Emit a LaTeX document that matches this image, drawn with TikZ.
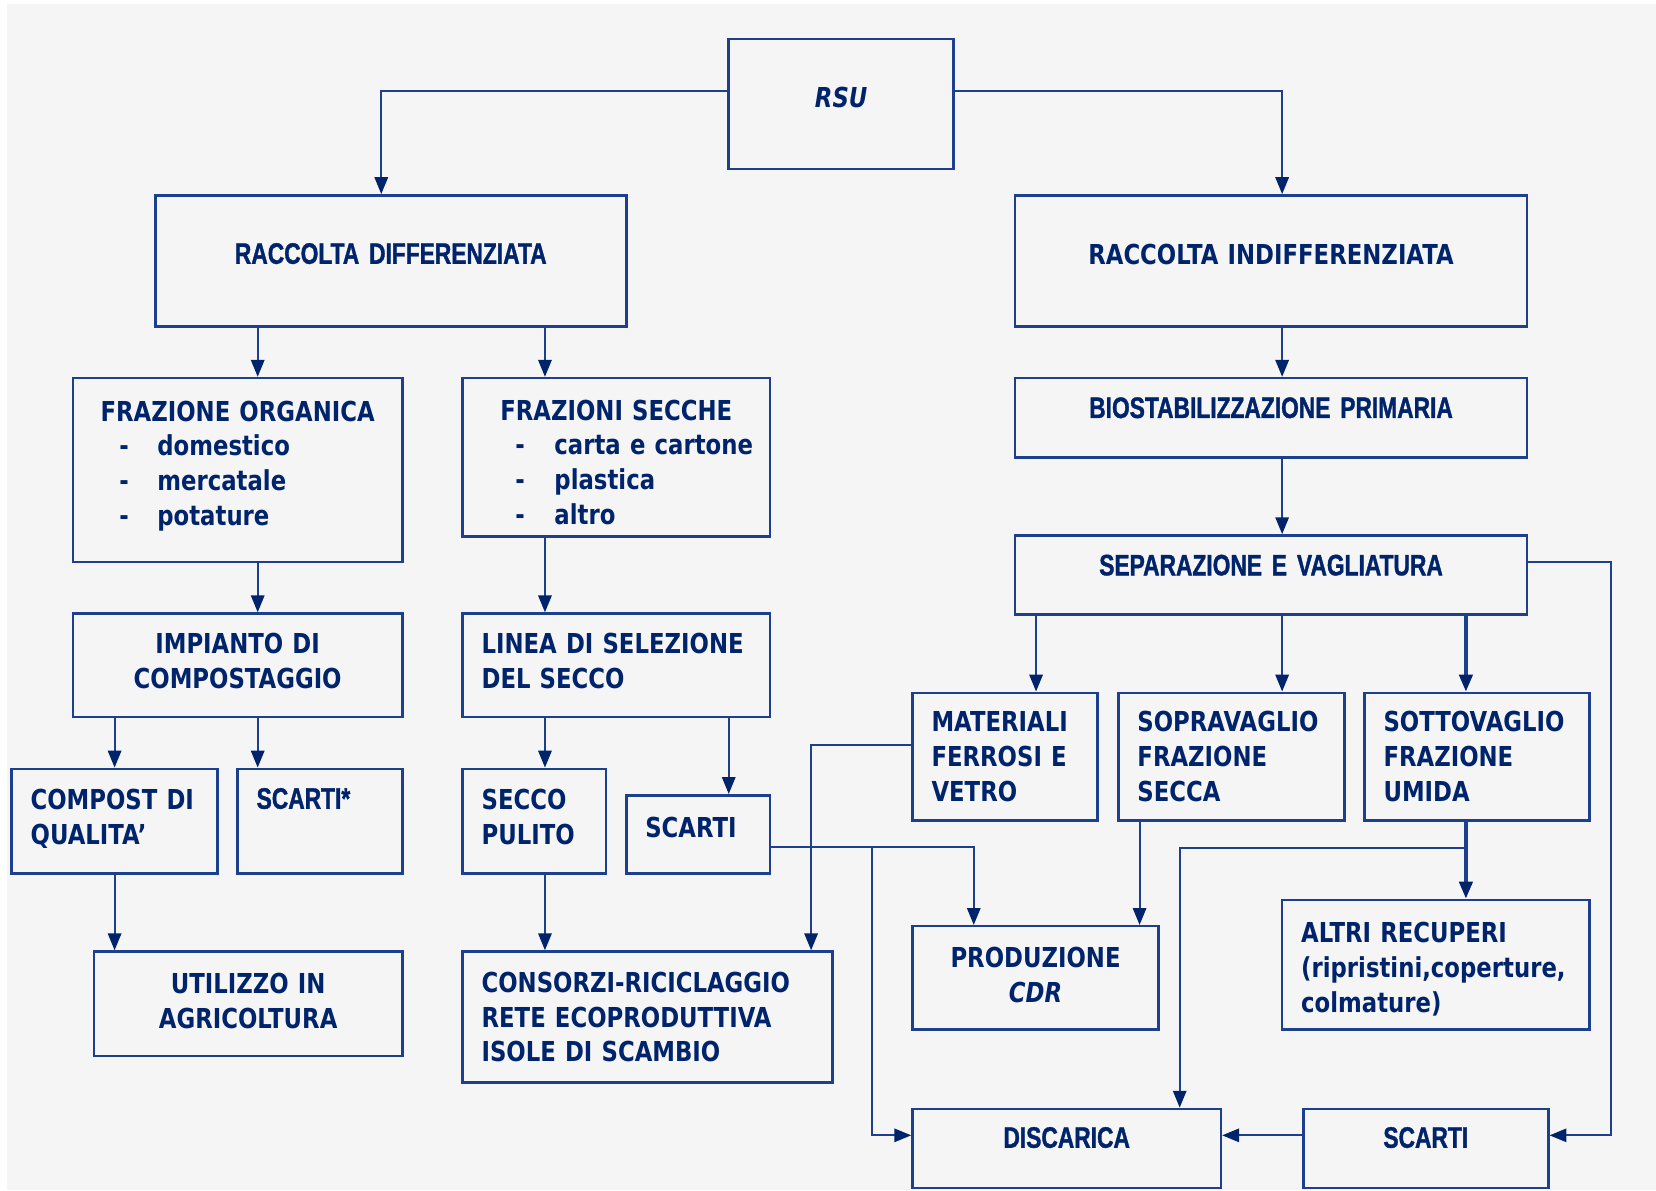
\documentclass[tikz,border=0pt]{standalone}
\usepackage{fontspec}
\usepackage{tikz}
\usetikzlibrary{shapes,arrows.meta,positioning,calc}
\newfontfamily\boxfont[FakeStretch=0.83]{DejaVu Sans}
\newfontfamily\arialfont[FakeStretch=0.77,BoldFeatures={FakeBold=1.2}]{Liberation Sans}
\definecolor{RsuNavy}{RGB}{0,36,107}
\definecolor{RsuLine}{RGB}{28,64,142}
\definecolor{RsuBack}{RGB}{245,245,245}
\newcommand{\padbelow}[1]{\rule[-#1]{0pt}{#1}}
\newcommand{\padabove}[1]{\rule{0pt}{#1}}
\newcommand{\dashitem}[3]{\hspace*{#1}\makebox[#2][l]{-}\mbox{#3}}
\tikzset{
  every node/.style={
    font=\boxfont\bfseries\fontsize{13}{16.5}\selectfont
  },
  box style/.style n args={2}{
    shape=rectangle,
    draw=RsuLine,
    line width=1.2pt,
    text=RsuNavy,
    minimum width=#1,
    minimum height=#2,
    text width=#1-18pt,
    inner xsep=9pt,
    inner ysep=0pt
  },
  centred text/.style={align=center},
  left text/.style={align=left},
  arial/.style={
    font=\arialfont\bfseries\fontsize{14}{17}\selectfont
  }
}

\begin{document}
\begin{tikzpicture}[x=0.5pt,y=-0.5pt,
    flow/.style={draw=RsuLine,line width=1pt,
      -{Triangle[length=8pt,width=6.3pt,color=RsuNavy]}},
    heavy flow/.style={flow,line width=1.6pt}
  ]
  \useasboundingbox (0,0) rectangle (1568,1127);
  \fill[white] (0,0) rectangle (1568,1127);
  \fill[RsuBack] (7,4) rectangle (1568,1127);

  \node[box style={106.5pt}{61.5pt},centred text] (rsu) at (796.5,98.5)
    {\itshape RSU\padbelow{6.5pt}};
  \node[box style={223pt}{62pt},centred text,arial] (raccdiff) at (370,247)
    {RACCOLTA DIFFERENZIATA\padbelow{7pt}};
  \node[box style={242.5pt}{62pt},centred text] (raccindiff) at (1203.5,247)
    {RACCOLTA INDIFFERENZIATA\padbelow{6pt}};
  \node[box style={156pt}{87pt},left text] (frazorg) at (225,445)
    {\makebox[138pt]{FRAZIONE ORGANICA}\\
     \dashitem{13pt}{18pt}{domestico}\\
     \dashitem{13pt}{18pt}{mercatale}\\
     \dashitem{13pt}{18pt}{potature}\padbelow{6.5pt}};
  \node[box style={145.5pt}{75pt},left text] (frazsecche) at (583.5,433)
    {\makebox[127.5pt]{FRAZIONI SECCHE}\padabove{14.5pt}\\
     \dashitem{16pt}{18.5pt}{carta e cartone}\\
     \dashitem{16pt}{18.5pt}{plastica}\\
     \dashitem{16pt}{18.5pt}{altro}};
  \node[box style={242.5pt}{37.5pt},centred text,arial] (biostab) at (1203.5,395.5)
    {BIOSTABILIZZAZIONE PRIMARIA\padbelow{9.5pt}};
  \node[box style={242.5pt}{37.5pt},centred text,arial] (separaz) at (1203.5,544.5)
    {SEPARAZIONE E VAGLIATURA\padbelow{9.5pt}};
  \node[box style={156pt}{49pt},centred text] (impianto) at (225,630)
    {IMPIANTO DI\\COMPOSTAGGIO\padbelow{4pt}};
  \node[box style={145.5pt}{49pt},left text] (lineasel) at (583.5,630)
    {LINEA~DI~SELEZIONE\\DEL~SECCO\padbelow{4pt}};
  \node[box style={97.5pt}{49.5pt},left text] (compost) at (108.5,777.5)
    {COMPOST~DI\\QUALITA’\padbelow{4pt}};
  \node[box style={78pt}{49.5pt},left text,arial] (scartiorg) at (303,777.5)
    {SCARTI*\padbelow{21.5pt}};
  \node[box style={68pt}{49.5pt},left text] (seccopul) at (506,777.5)
    {SECCO\\PULITO\padbelow{4pt}};
  \node[box style={68pt}{37pt},left text] (scartisec) at (661,790)
    {SCARTI\padbelow{7pt}};
  \node[box style={146pt}{49.5pt},centred text] (utilizzo) at (235,950.5)
    {UTILIZZO~IN\\AGRICOLTURA\padbelow{3pt}};
  \node[box style={175pt}{62pt},left text] (consorzi) at (613,963)
    {\mbox{CONSORZI-RICICLAGGIO}\\RETE~ECOPRODUTTIVA\\ISOLE~DI~SCAMBIO};
  \node[box style={87.5pt}{60.5pt},left text] (ferrosi) at (951.5,716.5)
    {MATERIALI\\FERROSI~E\\VETRO};
  \node[box style={107pt}{60.5pt},left text] (sopravaglio) at (1166,716.5)
    {SOPRAVAGLIO\\FRAZIONE\\SECCA};
  \node[box style={106.5pt}{60.5pt},left text] (sottovaglio) at (1398.5,716.5)
    {SOTTOVAGLIO\\FRAZIONE\\UMIDA};
  \node[box style={116.5pt}{49pt},centred text] (produzione) at (980.5,926)
    {PRODUZIONE\\{\itshape CDR}\padbelow{3pt}};
  \node[box style={145.5pt}{61.5pt},left text] (altrirec) at (1359.5,913.5)
    {ALTRI~RECUPERI\padabove{14pt}\\\mbox{(ripristini,coperture,}\\colmature)};
  \node[box style={146pt}{37.5pt},centred text,arial] (discarica) at (1010,1087.5)
    {DISCARICA\padbelow{10.5pt}};
  \node[box style={116pt}{37.5pt},centred text,arial] (scartifin) at (1350,1087.5)
    {SCARTI\padbelow{10.5pt}};

  \draw[flow] ([yshift=6.25pt]rsu.west) -| ([xshift=-4.5pt]raccdiff.north);
  \draw[flow] ([yshift=6.25pt]rsu.east) -| ([xshift=5.25pt]raccindiff.north);
  \draw[flow] ([xshift=9.5pt]frazorg.north |- raccdiff.south) -- ([xshift=9.5pt]frazorg.north);
  \draw[flow] ([xshift=-33.75pt]frazsecche.north |- raccdiff.south) -- ([xshift=-33.75pt]frazsecche.north);
  \draw[flow] ([xshift=5.25pt]raccindiff.south) -- ([xshift=5.25pt]biostab.north);
  \draw[flow] ([xshift=5.25pt]biostab.south) -- ([xshift=5.25pt]separaz.north);
  \draw[flow] ([xshift=9.5pt]frazorg.south) -- ([xshift=9.5pt]impianto.north);
  \draw[flow] ([xshift=-33.75pt]frazsecche.south) -- ([xshift=-33.75pt]lineasel.north);
  \draw[flow] (compost.north |- impianto.south) -- (compost.north);
  \draw[flow] ([xshift=9.5pt]impianto.south) -- ([xshift=9.5pt]impianto.south |- scartiorg.north);
  \draw[flow] ([xshift=5pt]seccopul.north |- lineasel.south) -- ([xshift=5pt]seccopul.north);
  \draw[flow] ([xshift=14.5pt]scartisec.north |- lineasel.south) -- ([xshift=14.5pt]scartisec.north);
  \draw[flow] (compost.south) -- (compost.south |- utilizzo.north);
  \draw[flow] ([xshift=5pt]seccopul.south) -- ([xshift=5pt]seccopul.south |- consorzi.north);
  \draw[flow] ([xshift=14.75pt]ferrosi.north |- separaz.south) -- ([xshift=14.75pt]ferrosi.north);
  \draw[flow] ([xshift=24pt]sopravaglio.north |- separaz.south) -- ([xshift=24pt]sopravaglio.north);
  \draw[heavy flow] ([xshift=-5.25pt]sottovaglio.north |- separaz.south) -- ([xshift=-5.25pt]sottovaglio.north);
  \draw[flow] ([yshift=5.75pt]ferrosi.west) -| ([xshift=77.5pt]consorzi.north);
  \draw[flow] ([yshift=-6pt]scartisec.east) -| ([xshift=-29.25pt]produzione.north);
  \draw[flow] ([yshift=-6pt]scartisec.east) -| ([xshift=-18.5pt,yshift=6.25pt]discarica.west)
    -- ([yshift=6.25pt]discarica.west);
  \draw[flow] ([xshift=49.25pt]produzione.north |- sopravaglio.south) -- ([xshift=49.25pt]produzione.north);
  \draw[heavy flow] ([xshift=-5.25pt]sottovaglio.south) -- ([xshift=-5.25pt]sottovaglio.south |- altrirec.north);
  \draw[flow] ([xshift=-5.25pt,yshift=-12.5pt]sottovaglio.south) -| ([xshift=53.5pt]discarica.north);
  \draw[flow] ([yshift=6.25pt]separaz.east) -| ([xshift=29pt,yshift=6.25pt]scartifin.east)
    -- ([yshift=6.25pt]scartifin.east);
  \draw[flow] ([yshift=6.25pt]scartifin.west) -- ([yshift=6.25pt]discarica.east);
\end{tikzpicture}
\end{document}
